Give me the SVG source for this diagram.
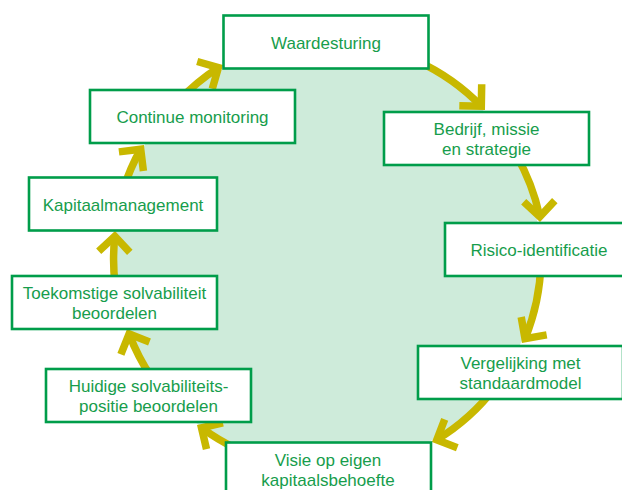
<svg xmlns="http://www.w3.org/2000/svg" width="622" height="490" viewBox="0 0 622 490">
<style>
.box{fill:#ffffff;stroke:#009D4A;stroke-width:2.6}
.lbl{font-family:"Liberation Sans",Arial,sans-serif;font-size:17px;fill:#179D4C;text-anchor:middle}
.arr{fill:none;stroke:#C8B800;stroke-width:7.5;stroke-linecap:butt;stroke-linejoin:miter;stroke-miterlimit:10}
</style>
<rect width="622" height="490" fill="#ffffff"/>
<circle id="background" cx="327" cy="255" r="213" fill="#CEEBDA"/>
<g id="connectors">
<path class="arr" d="M 417.4 61.1 A 214 214 0 0 1 481.3 106.2"/>
<path class="arr" d="M 481.7 84.2 L 481.3 106.2 L 459.3 105.8"/>
<path class="arr" d="M 515.9 154.5 A 214 214 0 0 1 539.8 216.7"/>
<path class="arr" d="M 523.7 201.7 L 539.8 216.7 L 554.8 200.6"/>
<path class="arr" d="M 540.9 262.5 A 214 214 0 0 1 525.0 338.7"/>
<path class="arr" d="M 521.2 317.0 L 525.0 338.7 L 546.7 334.9"/>
<path class="arr" d="M 495.6 386.8 A 214 214 0 0 1 436.8 439.8"/>
<path class="arr" d="M 444.7 419.3 L 436.8 439.8 L 457.3 447.7"/>
<path class="arr" d="M 236.6 448.9 A 214 214 0 0 1 201.5 427.8"/>
<path class="arr" d="M 222.9 422.9 L 201.5 427.8 L 206.5 449.2"/>
<path class="arr" d="M 151.7 377.7 A 214 214 0 0 1 129.1 333.9"/>
<path class="arr" d="M 149.5 342.1 L 129.1 333.9 L 120.9 354.3"/>
<path class="arr" d="M 115.1 284.8 A 214 214 0 0 1 114.8 236.3"/>
<path class="arr" d="M 129.8 252.4 L 114.8 236.3 L 98.7 251.3"/>
<path class="arr" d="M 123.5 188.9 A 214 214 0 0 1 140.7 149.2"/>
<path class="arr" d="M 143.4 171.0 L 140.7 149.2 L 118.9 151.9"/>
<path class="arr" d="M 178.3 101.1 A 214 214 0 0 1 218.4 67.6"/>
<path class="arr" d="M 212.3 88.7 L 218.4 67.6 L 197.2 61.5"/>
</g>
<g id="waardesturing">
<rect class="box" x="223.5" y="15.5" width="205" height="53"/>
<text class="lbl" x="326" y="48.5">Waardesturing</text>
</g>
<g id="bedrijf">
<rect class="box" x="384" y="112" width="205" height="53"/>
<text class="lbl" x="486.5" y="135">Bedrijf, missie</text>
<text class="lbl" x="486.5" y="155">en strategie</text>
</g>
<g id="risico">
<rect class="box" x="445" y="223" width="188" height="53"/>
<text class="lbl" x="539" y="256">Risico-identificatie</text>
</g>
<g id="vergelijking">
<rect class="box" x="418" y="346" width="205" height="53"/>
<text class="lbl" x="520.5" y="369">Vergelijking met</text>
<text class="lbl" x="520.5" y="389">standaardmodel</text>
</g>
<g id="visie">
<rect class="box" x="226" y="442.5" width="205" height="53"/>
<text class="lbl" x="328" y="465.5">Visie op eigen</text>
<text class="lbl" x="328" y="485.5">kapitaalsbehoefte</text>
</g>
<g id="huidige">
<rect class="box" x="46" y="369" width="205" height="53"/>
<text class="lbl" x="148.5" y="392">Huidige solvabiliteits-</text>
<text class="lbl" x="148.5" y="412">positie beoordelen</text>
</g>
<g id="toekomstige">
<rect class="box" x="12" y="276" width="205" height="53"/>
<text class="lbl" x="114.5" y="299">Toekomstige solvabiliteit</text>
<text class="lbl" x="114.5" y="319">beoordelen</text>
</g>
<g id="kapitaalmanagement">
<rect class="box" x="29" y="177.5" width="188" height="53"/>
<text class="lbl" x="123" y="210.5">Kapitaalmanagement</text>
</g>
<g id="continue">
<rect class="box" x="90" y="90" width="205" height="53"/>
<text class="lbl" x="192.5" y="123">Continue monitoring</text>
</g>
</svg>
